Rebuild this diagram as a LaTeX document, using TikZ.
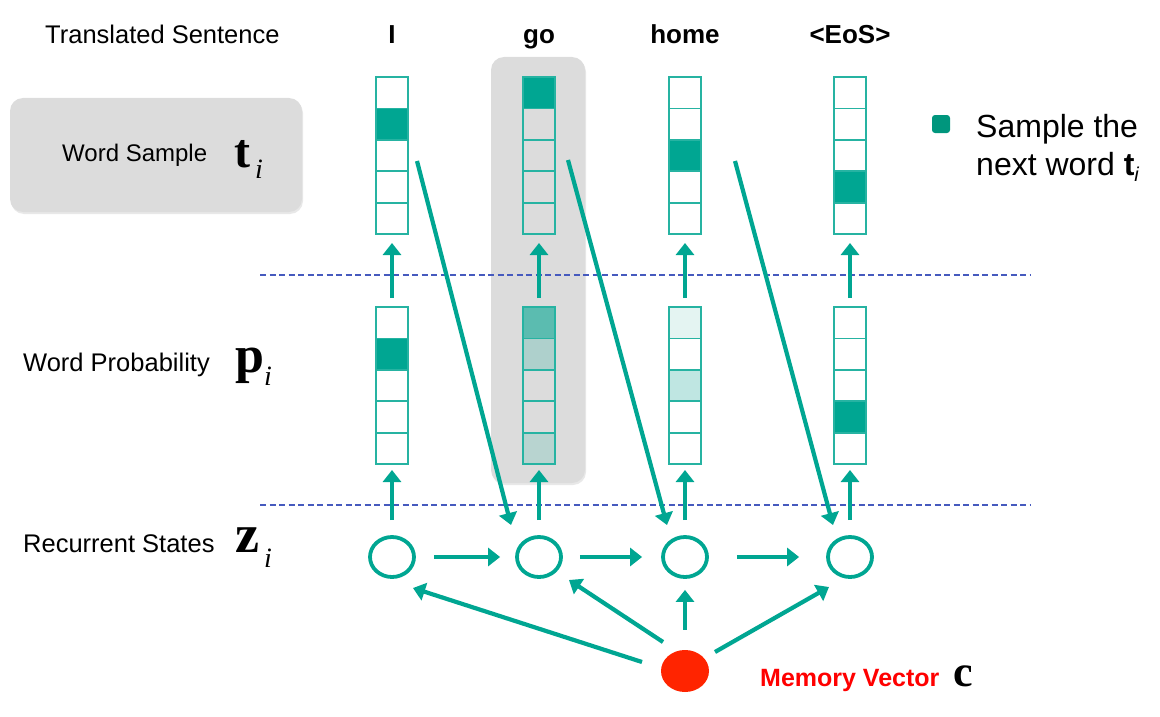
\documentclass[tikz,border=0pt]{standalone}
\usepackage{fontspec}
\setmainfont{Liberation Sans}
\newfontfamily\serifm{Liberation Serif}
\usetikzlibrary{arrows.meta,shadows,shapes.geometric}
\definecolor{tealc}{RGB}{0,166,146}
\definecolor{tealleg}{RGB}{0,150,125}
\definecolor{hlgray}{RGB}{220,220,220}
\definecolor{dashc}{RGB}{70,90,190}
\definecolor{redc}{RGB}{255,36,0}
\definecolor{pa}{RGB}{91,188,176}
\definecolor{pb}{RGB}{174,208,204}
\definecolor{pe}{RGB}{184,212,208}
\definecolor{pc}{RGB}{228,244,242}
\definecolor{pd}{RGB}{191,230,226}
\begin{document}
\begin{tikzpicture}[x=1pt,y=-1pt,
  cell/.style={draw=tealc!85, line width=1.8pt, minimum width=32pt, minimum height=31.4pt, inner sep=0pt, outer sep=0pt},
  state/.style={ellipse, draw=tealc, line width=3.8pt, minimum width=44pt, minimum height=40pt, inner sep=0pt},
  arr/.style={draw=tealc, line width=4.2pt, -{Triangle[length=12pt,width=18pt]}},
  hbox/.style={fill=hlgray, rounded corners=13pt, drop shadow={opacity=0.18, shadow xshift=1pt, shadow yshift=-2pt}},
  lab/.style={font=\fontsize{25.5}{28}\selectfont, anchor=base west, inner sep=0pt},
  head/.style={font=\fontsize{26}{28}\selectfont\bfseries, anchor=base, inner sep=0pt},
  sepline/.style={draw=dashc, line width=1.3pt, dash pattern=on 6pt off 3.5pt}
]
\useasboundingbox (0,0) rectangle (1160,717);

% gray highlight boxes
\path[hbox] (10,98) rectangle (302,212);
\path[hbox] (491,57) rectangle (585,483);

% separators
\draw[sepline] (260,275) -- (1030,275);
\draw[sepline] (260,505) -- (1030,505);

% labels
\node[lab] (lts) at (45,44) {Translated Sentence};
\node[lab, font=\fontsize{24}{28}\selectfont] (lws) at (62,161) {Word Sample};
\node[lab] (tsym) at (234,167) {\fontsize{48}{48}\serifm\bfseries t};
\node[lab] (tsub) at (255,178) {\fontsize{28}{28}\serifm\itshape i};
\node[lab] (lwp) at (23,371) {Word Probability};
\node[lab] (psym) at (235,372) {\fontsize{52}{52}\serifm\bfseries p};
\node[lab] (psub) at (264,385) {\fontsize{28}{28}\serifm\itshape i};
\node[lab] (lrs) at (23,552) {Recurrent States};
\node[lab] (zsym) at (235,552) {\fontsize{54}{54}\serifm\bfseries z};
\node[lab] (zsub) at (264,567) {\fontsize{28}{28}\serifm\itshape i};

% header words
\node[head] (w1) at (392,44) {I};
\node[head] (w2) at (539,44) {go};
\node[head] (w3) at (685,44) {home};
\node[head] (w4) at (850,44) {<EoS>};

% legend
\path[fill=tealleg, rounded corners=3pt] (932,115) rectangle (950,133);
\node[lab, font=\fontsize{32}{36}\selectfont] (leg1) at (976,137) {Sample the};
\node[lab, font=\fontsize{32}{36}\selectfont] (leg2) at (976,175) {next word \textbf{t}\raisebox{-6pt}{\fontsize{20}{20}\selectfont\itshape i}};

% vectors
\foreach \k/\x/\tc/\pc in {
  1/392/{white,tealc,white,white,white}/{white,tealc,white,white,white},
  2/539/{tealc,none,none,none,none}/{pa,pb,none,none,pe},
  3/685/{white,white,tealc,white,white}/{pc,white,pd,white,white},
  4/850/{white,white,white,tealc,white}/{white,white,white,tealc,white}} {
  \foreach \c [count=\j] in \tc {
    \node[cell, fill=\c] (T\k-\j) at (\x, {77+31.4*(\j-0.5)}) {};
  }
  \foreach \c [count=\j] in \pc {
    \node[cell, fill=\c] (P\k-\j) at (\x, {307+31.4*(\j-0.5)}) {};
  }
  \node[state] (Z\k) at (\x,557) {};
  \draw[arr, shorten <=9pt, shorten >=9pt] (P\k-1.north) -- (T\k-5.south);
  \draw[arr, shorten <=15pt, shorten >=6pt] (Z\k.north) -- (P\k-5.south);
}

% recurrent arrows
\draw[arr, shorten <=18pt, shorten >=15pt] (Z1.east) -- (Z2.west);
\draw[arr, shorten <=17pt, shorten >=19pt] (Z2.east) -- (Z3.west);
\draw[arr, shorten <=28pt, shorten >=27pt] (Z3.east) -- (Z4.west);

% sample feedback arrows
\coordinate (d1s) at (417,161); \coordinate (d1e) at (511,525);
\coordinate (d2s) at (568,160); \coordinate (d2e) at (667,525);
\coordinate (d3s) at (735,161); \coordinate (d3e) at (833,525);
\draw[arr] (d1s) -- (d1e);
\draw[arr] (d2s) -- (d2e);
\draw[arr] (d3s) -- (d3e);

% memory vector
\node[ellipse, fill=redc, minimum width=48pt, minimum height=42pt, inner sep=0pt] (C) at (685,671) {};
\node[lab, font=\fontsize{25}{28}\selectfont\bfseries, text=red] (mv) at (760,686) {Memory Vector};
\node[lab] (csym) at (953,686) {\fontsize{44}{44}\serifm\bfseries c};

\coordinate (m1s) at (642,662); \coordinate (m1e) at (413,588);
\coordinate (m2s) at (663,642); \coordinate (m2e) at (569,580);
\coordinate (m4s) at (715,652); \coordinate (m4e) at (829,587);
\draw[arr] (m1s) -- (m1e);
\draw[arr] (m2s) -- (m2e);
\draw[arr, shorten <=20pt, shorten >=11pt] (C.north) -- (Z3.south);
\draw[arr] (m4s) -- (m4e);
\end{tikzpicture}
\end{document}
